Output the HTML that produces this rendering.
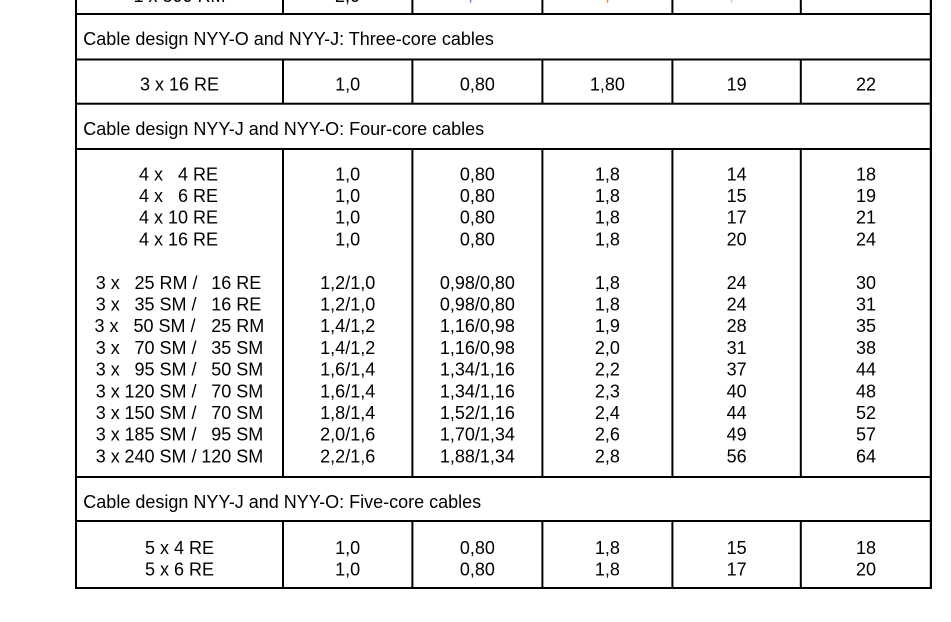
<!DOCTYPE html>
<html>
<head>
<meta charset="utf-8">
<style>
  html,body{margin:0;padding:0;background:#fff;}
  body{width:951px;height:622px;overflow:hidden;}
  svg{display:block;}
  text{font-family:"Liberation Sans",Arial,sans-serif;font-size:18px;fill:#000;}
  .c{text-anchor:middle;}
  .e{text-anchor:end;}
</style>
</head>
<body>
<svg width="951" height="622" viewBox="0 0 951 622" xmlns="http://www.w3.org/2000/svg">
  <rect x="0" y="0" width="951" height="622" fill="#fff"/>

  <!-- partially visible top row -->
  <text class="c" x="179.5" y="2">1 x 300 RM</text>
  <text class="c" x="347.5" y="2">2,0</text>
  <text x="468" y="0.5" style="fill:#3a6fc8">,</text>
  <text x="605" y="0.5" style="fill:#d2691e">,</text>
  <text x="729" y="0" style="fill:#aaa">,</text>

  <!-- horizontal lines -->
  <g fill="#000">
    <rect x="75" y="13" width="857" height="2"/>
    <rect x="75" y="58.5" width="857" height="2"/>
    <rect x="75" y="102.7" width="857" height="2"/>
    <rect x="75" y="148" width="857" height="2"/>
    <rect x="75" y="476" width="857" height="2"/>
    <rect x="75" y="520" width="857" height="2"/>
    <rect x="75" y="587" width="857" height="2"/>
    <!-- outer borders -->
    <rect x="75" y="0" width="2" height="589"/>
    <rect x="929.8" y="0" width="2.2" height="589"/>
  </g>

  <!-- column separators -->
  <g fill="#000">
    <rect x="282" y="0" width="2" height="14"/>
    <rect x="411.4" y="0" width="2" height="14"/>
    <rect x="541.4" y="0" width="2" height="14"/>
    <rect x="671.4" y="0" width="2" height="14"/>
    <rect x="799.8" y="0" width="2" height="14"/>

    <rect x="282" y="59" width="2" height="45"/>
    <rect x="411.4" y="59" width="2" height="45"/>
    <rect x="541.4" y="59" width="2" height="45"/>
    <rect x="671.4" y="59" width="2" height="45"/>
    <rect x="799.8" y="59" width="2" height="45"/>

    <rect x="282" y="149" width="2" height="328"/>
    <rect x="411.4" y="149" width="2" height="328"/>
    <rect x="541.4" y="149" width="2" height="328"/>
    <rect x="671.4" y="149" width="2" height="328"/>
    <rect x="799.8" y="149" width="2" height="328"/>

    <rect x="282" y="521" width="2" height="67"/>
    <rect x="411.4" y="521" width="2" height="67"/>
    <rect x="541.4" y="521" width="2" height="67"/>
    <rect x="671.4" y="521" width="2" height="67"/>
    <rect x="799.8" y="521" width="2" height="67"/>
  </g>

  <!-- Section: three-core -->
  <text x="83.3" y="45">Cable design NYY-O and NYY-J: Three-core cables</text>
  <text class="c" x="179.5" y="90.3">3 x 16 RE</text>
  <text class="c" x="347.7" y="90.3">1,0</text>
  <text class="c" x="477.4" y="90.3">0,80</text>
  <text class="c" x="607.4" y="90.3">1,80</text>
  <text class="c" x="736.6" y="90.3">19</text>
  <text class="c" x="866" y="90.3">22</text>

  <!-- Section: four-core -->
  <text x="83.3" y="135.2">Cable design NYY-J and NYY-O: Four-core cables</text>

  <!-- 4 x rows -->
  <g>
    <text x="139" y="180.3">4 x</text><text class="e" x="188" y="180.3">4</text><text x="193" y="180.3">RE</text>
    <text x="139" y="202">4 x</text><text class="e" x="188" y="202">6</text><text x="193" y="202">RE</text>
    <text x="139" y="223.7">4 x</text><text class="e" x="188" y="223.7">10</text><text x="193" y="223.7">RE</text>
    <text x="139" y="245.4">4 x</text><text class="e" x="188" y="245.4">16</text><text x="193" y="245.4">RE</text>
  </g>
  <g class="c">
    <text class="c" x="347.7" y="180.3">1,0</text><text class="c" x="477.4" y="180.3">0,80</text><text class="c" x="607.4" y="180.3">1,8</text><text class="c" x="736.6" y="180.3">14</text><text class="c" x="866" y="180.3">18</text>
    <text class="c" x="347.7" y="202">1,0</text><text class="c" x="477.4" y="202">0,80</text><text class="c" x="607.4" y="202">1,8</text><text class="c" x="736.6" y="202">15</text><text class="c" x="866" y="202">19</text>
    <text class="c" x="347.7" y="223.7">1,0</text><text class="c" x="477.4" y="223.7">0,80</text><text class="c" x="607.4" y="223.7">1,8</text><text class="c" x="736.6" y="223.7">17</text><text class="c" x="866" y="223.7">21</text>
    <text class="c" x="347.7" y="245.4">1,0</text><text class="c" x="477.4" y="245.4">0,80</text><text class="c" x="607.4" y="245.4">1,8</text><text class="c" x="736.6" y="245.4">20</text><text class="c" x="866" y="245.4">24</text>
  </g>

  <!-- 3 x rows -->
  <g>
    <text x="95.7" y="288.8">3 x</text><text class="e" x="154.5" y="288.8">25</text><text x="159.5" y="288.8">RM /</text><text class="e" x="231.3" y="288.8">16</text><text x="236.3" y="288.8">RE</text>
    <text x="95.7" y="310.5">3 x</text><text class="e" x="154.5" y="310.5">35</text><text x="159.5" y="310.5">SM /</text><text class="e" x="231.3" y="310.5">16</text><text x="236.3" y="310.5">RE</text>
    <text x="94.5" y="332.2">3 x</text><text class="e" x="153.5" y="332.2">50</text><text x="158.5" y="332.2">SM /</text><text class="e" x="231.3" y="332.2">25</text><text x="236.3" y="332.2">RM</text>
    <text x="95.7" y="353.9">3 x</text><text class="e" x="154.5" y="353.9">70</text><text x="159.5" y="353.9">SM /</text><text class="e" x="231.3" y="353.9">35</text><text x="236.3" y="353.9">SM</text>
    <text x="95.7" y="375.6">3 x</text><text class="e" x="154.5" y="375.6">95</text><text x="159.5" y="375.6">SM /</text><text class="e" x="231.3" y="375.6">50</text><text x="236.3" y="375.6">SM</text>
    <text x="95.7" y="397.3">3 x</text><text class="e" x="154.5" y="397.3">120</text><text x="159.5" y="397.3">SM /</text><text class="e" x="231.3" y="397.3">70</text><text x="236.3" y="397.3">SM</text>
    <text x="95.7" y="419">3 x</text><text class="e" x="154.5" y="419">150</text><text x="159.5" y="419">SM /</text><text class="e" x="231.3" y="419">70</text><text x="236.3" y="419">SM</text>
    <text x="95.7" y="440.7">3 x</text><text class="e" x="154.5" y="440.7">185</text><text x="159.5" y="440.7">SM /</text><text class="e" x="231.3" y="440.7">95</text><text x="236.3" y="440.7">SM</text>
    <text x="95.7" y="462.4">3 x</text><text class="e" x="154.5" y="462.4">240</text><text x="159.5" y="462.4">SM /</text><text class="e" x="231.3" y="462.4">120</text><text x="236.3" y="462.4">SM</text>
  </g>
  <g>
    <text class="c" x="347.7" y="288.8">1,2/1,0</text><text class="c" x="477.4" y="288.8">0,98/0,80</text><text class="c" x="607.4" y="288.8">1,8</text><text class="c" x="736.6" y="288.8">24</text><text class="c" x="866" y="288.8">30</text>
    <text class="c" x="347.7" y="310.5">1,2/1,0</text><text class="c" x="477.4" y="310.5">0,98/0,80</text><text class="c" x="607.4" y="310.5">1,8</text><text class="c" x="736.6" y="310.5">24</text><text class="c" x="866" y="310.5">31</text>
    <text class="c" x="347.7" y="332.2">1,4/1,2</text><text class="c" x="477.4" y="332.2">1,16/0,98</text><text class="c" x="607.4" y="332.2">1,9</text><text class="c" x="736.6" y="332.2">28</text><text class="c" x="866" y="332.2">35</text>
    <text class="c" x="347.7" y="353.9">1,4/1,2</text><text class="c" x="477.4" y="353.9">1,16/0,98</text><text class="c" x="607.4" y="353.9">2,0</text><text class="c" x="736.6" y="353.9">31</text><text class="c" x="866" y="353.9">38</text>
    <text class="c" x="347.7" y="375.6">1,6/1,4</text><text class="c" x="477.4" y="375.6">1,34/1,16</text><text class="c" x="607.4" y="375.6">2,2</text><text class="c" x="736.6" y="375.6">37</text><text class="c" x="866" y="375.6">44</text>
    <text class="c" x="347.7" y="397.3">1,6/1,4</text><text class="c" x="477.4" y="397.3">1,34/1,16</text><text class="c" x="607.4" y="397.3">2,3</text><text class="c" x="736.6" y="397.3">40</text><text class="c" x="866" y="397.3">48</text>
    <text class="c" x="347.7" y="419">1,8/1,4</text><text class="c" x="477.4" y="419">1,52/1,16</text><text class="c" x="607.4" y="419">2,4</text><text class="c" x="736.6" y="419">44</text><text class="c" x="866" y="419">52</text>
    <text class="c" x="347.7" y="440.7">2,0/1,6</text><text class="c" x="477.4" y="440.7">1,70/1,34</text><text class="c" x="607.4" y="440.7">2,6</text><text class="c" x="736.6" y="440.7">49</text><text class="c" x="866" y="440.7">57</text>
    <text class="c" x="347.7" y="462.4">2,2/1,6</text><text class="c" x="477.4" y="462.4">1,88/1,34</text><text class="c" x="607.4" y="462.4">2,8</text><text class="c" x="736.6" y="462.4">56</text><text class="c" x="866" y="462.4">64</text>
  </g>

  <!-- Section: five-core -->
  <text x="83.3" y="508.2">Cable design NYY-J and NYY-O: Five-core cables</text>
  <g>
    <text class="c" x="179.5" y="553.8">5 x 4 RE</text><text class="c" x="347.7" y="553.8">1,0</text><text class="c" x="477.4" y="553.8">0,80</text><text class="c" x="607.4" y="553.8">1,8</text><text class="c" x="736.6" y="553.8">15</text><text class="c" x="866" y="553.8">18</text>
    <text class="c" x="179.5" y="575.5">5 x 6 RE</text><text class="c" x="347.7" y="575.5">1,0</text><text class="c" x="477.4" y="575.5">0,80</text><text class="c" x="607.4" y="575.5">1,8</text><text class="c" x="736.6" y="575.5">17</text><text class="c" x="866" y="575.5">20</text>
  </g>
</svg>
</body>
</html>
